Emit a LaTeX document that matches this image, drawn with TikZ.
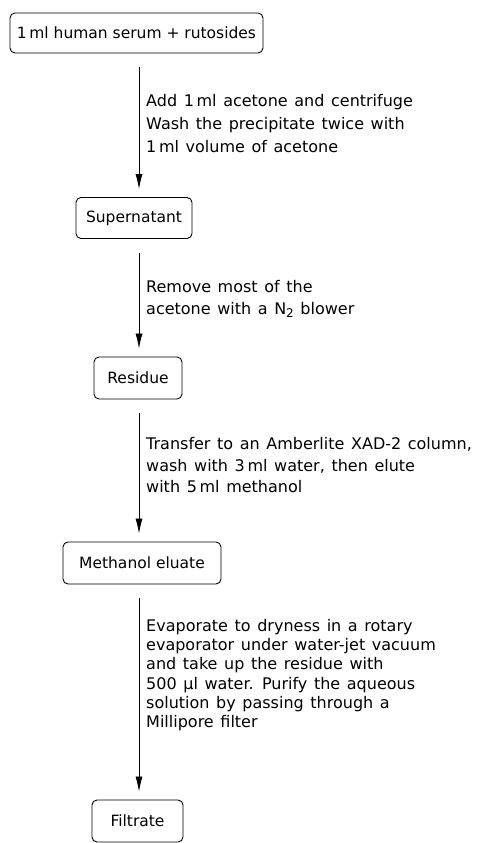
\documentclass[tikz,border=0pt]{standalone}
\usepackage{fontspec}
\setmainfont{DejaVu Sans}
\newfontfamily\lblfont{DejaVu Sans}[WordSpace=1.3]
\usetikzlibrary{arrows.meta}
\begin{document}
\begin{tikzpicture}[x=1pt,y=-1pt,
  box/.style={draw, rounded corners=5pt, line width=0.9pt, inner sep=0pt,
    font=\fontsize{15.5}{18}\selectfont},
  lbl/.style={anchor=west, align=left, inner sep=0pt},
  flow/.style={-{Latex[length=15pt,width=7pt]}, line width=0.8pt,
    shorten <=14pt, shorten >=8pt}]
\useasboundingbox (0,0) rectangle (494,843);
\coordinate (ax) at (139,0);
\node[box, minimum width=253pt, minimum height=40pt] (b1) at (136.5,33) {1\,ml human serum + rutosides};
\node[box, minimum width=116pt, minimum height=41pt] (b2) at (134,218) {Supernatant};
\node[box, minimum width=88pt, minimum height=42pt] (b3) at (138,378) {Residue};
\node[box, minimum width=158pt, minimum height=42pt] (b4) at (142,563) {Methanol eluate};
\node[box, minimum width=91pt, minimum height=42pt] (b5) at (137.5,821) {Filtrate};
\draw[flow] (b1.south -| ax) -- (b2.north -| ax);
\draw[flow] (b2.south -| ax) -- (b3.north -| ax);
\draw[flow] (b3.south -| ax) -- (b4.north -| ax);
\draw[flow] (b4.south -| ax) -- (b5.north -| ax);
\node[lbl, font=\lblfont\fontsize{16}{23}\selectfont] (t1) at (146,124)
  {Add 1\,ml acetone and centrifuge\\ Wash the precipitate twice with\\ 1\,ml volume of acetone};
\node[lbl, font=\lblfont\fontsize{16}{22}\selectfont] (t2) at (146,299)
  {Remove most of the\\ acetone with a N\raisebox{-0.35ex}{\fontsize{12}{12}\selectfont 2} blower};
\node[lbl, font=\lblfont\fontsize{16}{21.5}\selectfont] (t3) at (146,465.5)
  {Transfer to an Amberlite XAD-2 column,\\ wash with 3\,ml water, then elute\\ with 5\,ml methanol};
\node[lbl, font=\lblfont\fontsize{16}{19.2}\selectfont] (t4) at (146,675)
  {Evaporate to dryness in a rotary\\ evaporator under water-jet vacuum\\ and take up the residue with\\ 500 µl water. Purify the aqueous\\ solution by passing through a\\ Millipore filter};
\end{tikzpicture}
\end{document}
